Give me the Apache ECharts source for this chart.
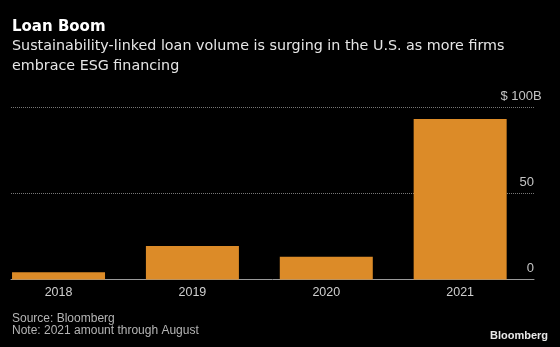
<!DOCTYPE html>
<html>
<head>
<meta charset="utf-8">
<script src="https://cdn.jsdelivr.net/npm/echarts@6/dist/echarts.min.js"></script>
<style>
html,body{margin:0;padding:0;background:#000;}
#chart{width:560px;height:347px;}
</style>
</head>
<body>
<div id="chart"></div>
<script>
const categories = ['2018', '2019', '2020', '2021'];
const loanVolume = [4.2, 19.5, 13.3, 93.4];
const yTicks = [0, 50, 100];

const FONT = '"Liberation Sans", Arial, sans-serif';
const HFONT = '"DejaVu Sans", sans-serif';
const chart = echarts.init(document.getElementById('chart'), null, {renderer: 'canvas'});

const option = {
  backgroundColor: '#000',
  animation: false,
  title: [
    {text: 'Loan Boom', left: 12, top: 20, padding: 0,
     textStyle: {color: '#fff', fontSize: 15, fontWeight: 'bold', fontFamily: HFONT}},
    {text: 'Sustainability-linked loan volume is surging in the U.S. as more firms\nembrace ESG financing',
     left: 12, top: 36, padding: 0,
     textStyle: {color: '#e6e6e6', fontSize: 14.3, fontWeight: 'normal', lineHeight: 20, fontFamily: HFONT}},
    {text: 'Source: Bloomberg\nNote: 2021 amount through August', left: 12, top: 312, padding: 0,
     textStyle: {color: '#b5b5b5', fontSize: 12, fontWeight: 'normal', lineHeight: 12.5, fontFamily: FONT}},
    {text: 'Bloomberg', right: 12, top: 330, padding: 0,
     textStyle: {color: '#e8e8e8', fontSize: 11, fontWeight: 'bold', fontFamily: FONT}}
  ],
  grid: [
    {left: -8.4, right: 32.9, top: 107.7, bottom: 67.5, outerBoundsMode: 'none', containLabel: false},
    {left: 11, right: 26, top: 107.7, bottom: 67.5, outerBoundsMode: 'none', containLabel: false}
  ],
  xAxis: [
    {type: 'category', gridIndex: 0, data: categories,
     axisLine: {show: false}, axisTick: {show: false},
     axisLabel: {color: '#cfcfcf', fontSize: 12.5, margin: 7, fontFamily: FONT}},
    {type: 'category', gridIndex: 1, data: categories,
     axisLine: {show: true, lineStyle: {color: '#9a9a9a', width: 1}},
     axisTick: {show: false}, axisLabel: {show: false}}
  ],
  yAxis: [
    {type: 'value', gridIndex: 0, min: 0, max: 100, interval: 50, show: false},
    {type: 'value', gridIndex: 1, min: 0, max: 100, interval: 50, position: 'right',
     axisLine: {show: false}, axisTick: {show: false},
     splitLine: {show: true, lineStyle: {color: '#777', type: 'dotted', width: 1}},
     axisLabel: {inside: true, margin: 0, align: 'right', verticalAlign: 'bottom',
       color: '#c4c4c4', fontSize: 13, fontFamily: FONT, padding: [0, 0, 5, 0],
       formatter: function (v) {
         if (yTicks.indexOf(v) < 0) return '';
         return v === 100 ? '{a|$ ' + v + '}{b|B}' : String(v);
       },
       rich: {
         a: {color: '#c4c4c4', fontSize: 13, fontFamily: FONT, align: 'left'},
         b: {color: '#c4c4c4', fontSize: 13, fontFamily: FONT, width: 1, align: 'left'}
       }}
    }
  ],
  series: [
    {type: 'bar', xAxisIndex: 0, yAxisIndex: 0, data: loanVolume,
     barWidth: 93, itemStyle: {color: '#DC8B28'}}
  ]
};
chart.setOption(option);
</script>
</body>
</html>
